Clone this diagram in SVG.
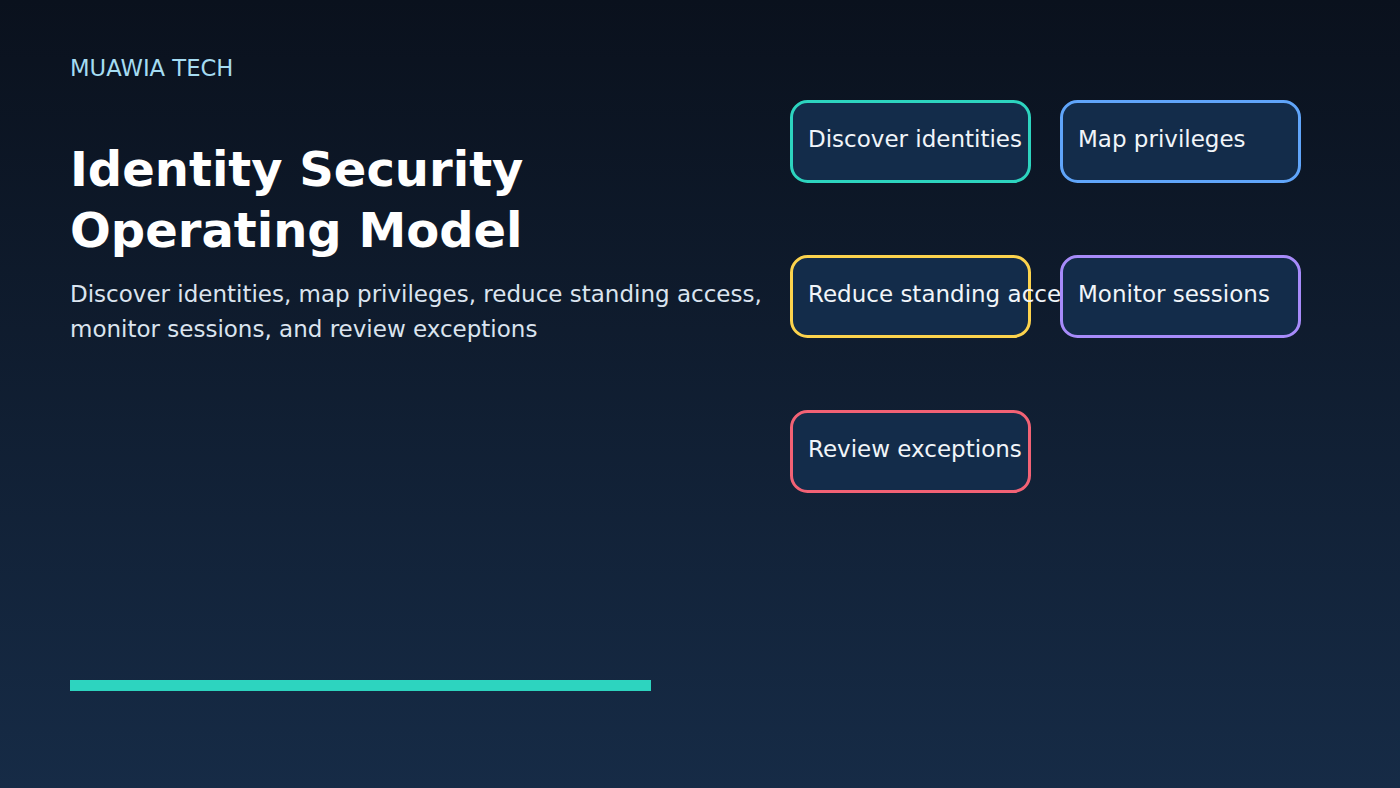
<svg xmlns="http://www.w3.org/2000/svg" width="1400" height="788" viewBox="0 0 1400 788">
<defs>
<linearGradient id="bg" x1="0" y1="0" x2="0" y2="1">
<stop offset="0" stop-color="#0a111d"/>
<stop offset="1" stop-color="#162b46"/>
</linearGradient>
<style>
.box{fill:#132c4a;stroke-width:3}
.lbl{font-family:"DejaVu Sans",sans-serif;font-size:23px;fill:#f1f5f9}
</style>
</defs>
<rect width="1400" height="788" fill="url(#bg)"/>
<text x="70" y="76" font-family="DejaVu Sans,sans-serif" font-size="22.7" fill="#a5dcf2">MUAWIA TECH</text>
<text font-family="DejaVu Sans,sans-serif" font-size="48" font-weight="bold" fill="#ffffff"><tspan x="70" y="186">Identity Security</tspan><tspan x="70" y="247">Operating Model</tspan></text>
<text font-family="DejaVu Sans,sans-serif" font-size="23" fill="#dbe4ef"><tspan x="70" y="302">Discover identities, map privileges, reduce standing access,</tspan><tspan x="70" y="337">monitor sessions, and review exceptions</tspan></text>
<rect x="70" y="680" width="581" height="11" fill="#2dd4bf"/>
<g id="connectors"/>
<g id="discover"><rect class="box" x="791.5" y="101.5" width="238" height="80" rx="16" stroke="#2dd4bf"/><text class="lbl" x="808" y="147">Discover identities</text></g>
<g id="map"><rect class="box" x="1061.5" y="101.5" width="238" height="80" rx="16" stroke="#60a5fa"/><text class="lbl" x="1078" y="147">Map privileges</text></g>
<g id="reduce"><rect class="box" x="791.5" y="256.5" width="238" height="80" rx="16" stroke="#fcd34d"/><text class="lbl" x="808" y="302">Reduce standing access</text></g>
<g id="monitor"><rect class="box" x="1061.5" y="256.5" width="238" height="80" rx="16" stroke="#a78bfa"/><text class="lbl" x="1078" y="302">Monitor sessions</text></g>
<g id="review"><rect class="box" x="791.5" y="411.5" width="238" height="80" rx="16" stroke="#f26275"/><text class="lbl" x="808" y="457">Review exceptions</text></g>
</svg>
